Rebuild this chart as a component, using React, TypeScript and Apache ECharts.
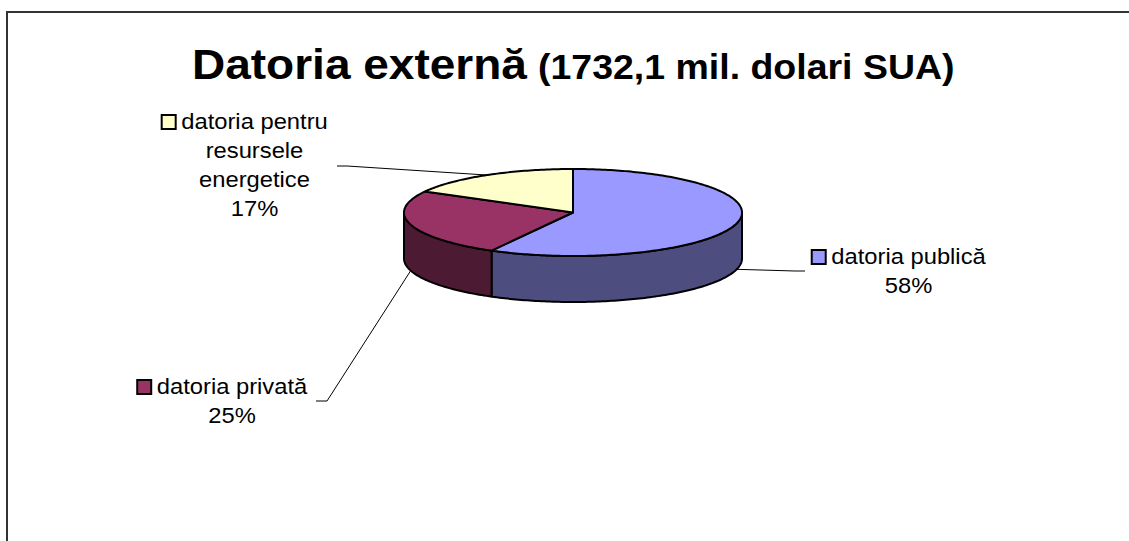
import React, { useEffect, useRef } from "react";
import * as echarts from "echarts";

// ---- data ----
const CATEGORIES = ["datoria publică", "datoria privată", "datoria pentru resursele energetice"];
const LABEL_LINES = [["datoria publică"], ["datoria privată"], ["datoria pentru", "resursele", "energetice"]];
const VALUES = [58, 25, 17];
const TITLE = "Datoria externă";
const SUBTITLE = "(1732,1 mil. dolari SUA)";

// ---- styles ----
const TOP_COLORS = ["#9999FF", "#993366", "#FFFFCC"];
const SIDE_COLORS = ["#4D4D80", "#4D1A33", "#80805F"];
const FONT_FAMILY = "'Liberation Sans', Arial, sans-serif";

// ---- layout ----
const W = 1129;
const H = 541;
const PIE = { cx: 573, cy: 212.5, rx: 169, ry: 43.5, depth: 46 };
const LABEL_FS = 22;
const LABEL_SX = 1.08;
const LINE_GAP = 29;
const LABEL_LAYOUT = [
  { cx: 908.5, firstBaseline: 264.3, leader: [[805, 271], [795, 271]] },
  { cx: 232, firstBaseline: 394.3, leader: [[316, 401], [327, 401]] },
  { cx: 254.5, firstBaseline: 129.3, leader: [[337, 166], [347, 166]] },
];

const measureCtx = typeof document !== "undefined" ? document.createElement("canvas").getContext("2d") : null;
function textWidth(t: string, font: string) {
  if (!measureCtx) return t.length * 10;
  measureCtx.font = font;
  return measureCtx.measureText(t).width;
}

const total = VALUES.reduce((a, b) => a + b, 0);
const starts: number[] = [];
{
  let acc = 0;
  VALUES.forEach((v) => {
    starts.push((acc / total) * 360);
    acc += v;
  });
}

function pt(deg: number, dy = 0): number[] {
  const r = (deg * Math.PI) / 180;
  return [PIE.cx + PIE.rx * Math.sin(r), PIE.cy - PIE.ry * Math.cos(r) + dy];
}
function arc(a: number, b: number, dy = 0): number[][] {
  const pts: number[][] = [];
  const n = Math.max(2, Math.ceil(Math.abs(b - a)));
  for (let k = 0; k <= n; k++) pts.push(pt(a + ((b - a) * k) / n, dy));
  return pts;
}

export default function App() {
  const ref = useRef<HTMLDivElement>(null);
  useEffect(() => {
    if (!ref.current) return;
    const chart = echarts.init(ref.current, undefined, { renderer: "svg" });
    const labelFont = `${LABEL_FS}px ${FONT_FAMILY}`;

    const renderItem = (params: any, api: any) => {
      const i = params.dataIndex;
      const v = api.value(0) as number;
      const a0 = starts[i];
      const a1 = a0 + (v / total) * 360;
      const children: any[] = [];
      // front side wall
      const s0 = Math.max(a0, 90);
      const s1 = Math.min(a1, 270);
      if (s1 > s0) {
        const top = arc(s0, s1);
        const bottom = arc(s1, s0, PIE.depth);
        children.push({
          type: "polygon",
          shape: { points: [...top, ...bottom] },
          style: { fill: SIDE_COLORS[i], stroke: "#000", lineWidth: 2, lineJoin: "round" },
        });
      }
      // top face
      children.push({
        type: "polygon",
        shape: { points: [[PIE.cx, PIE.cy], ...arc(a0, a1)] },
        style: { fill: TOP_COLORS[i], stroke: "#000", lineWidth: 2, lineJoin: "round" },
      });
      // leader line
      const mid = (a0 + a1) / 2;
      const front = Math.cos((mid * Math.PI) / 180) < 0;
      const lay = LABEL_LAYOUT[i];
      children.push({
        type: "polyline",
        shape: { points: [lay.leader[0], lay.leader[1], pt(mid, front ? PIE.depth : 0)] },
        style: { fill: "none", stroke: "#000", lineWidth: 1 },
      });
      // label text
      const pct = Math.round((v / total) * 100) + "%";
      const lines = [...LABEL_LINES[i], pct];
      lines.forEach((t, k) => {
        children.push({
          type: "text",
          x: lay.cx,
          y: lay.firstBaseline + k * LINE_GAP - 0.3465 * LABEL_FS,
          scaleX: LABEL_SX,
          style: {
            text: t,
            x: 0,
            y: 0,
            fill: "#000",
            font: labelFont,
            align: "center",
            verticalAlign: "middle",
            textAlign: "center",
            textVerticalAlign: "middle",
          },
        });
      });
      // legend key
      const w0 = textWidth(lines[0], labelFont) * LABEL_SX;
      const left = lay.cx - w0 / 2;
      const kc = lay.firstBaseline - 7.2;
      children.push({
        type: "rect",
        shape: { x: left - 19.5, y: kc - 7, width: 14, height: 14 },
        style: { fill: TOP_COLORS[i], stroke: "#000", lineWidth: 2 },
      });
      return { type: "group", children };
    };

    chart.setOption({
      animation: false,
      backgroundColor: "#fff",
      graphic: [
        { type: "line", shape: { x1: 7, y1: 12, x2: 7, y2: H + 5 }, style: { stroke: "#333", lineWidth: 2 } },
        { type: "line", shape: { x1: 6, y1: 12, x2: W + 5, y2: 12 }, style: { stroke: "#333", lineWidth: 2 } },
        {
          type: "text",
          x: 192,
          y: 79 - 0.3465 * 42.6,
          scaleX: 1.08,
          style: {
            text: TITLE,
            x: 0,
            y: 0,
            fill: "#000",
            font: `bold 42.6px ${FONT_FAMILY}`,
            align: "left",
            verticalAlign: "middle",
            textAlign: "left",
            textVerticalAlign: "middle",
          },
        },
        {
          type: "text",
          x: 538,
          y: 79 - 0.3465 * 34.7,
          scaleX: 1.08,
          style: {
            text: SUBTITLE,
            x: 0,
            y: 0,
            fill: "#000",
            font: `bold 34.7px ${FONT_FAMILY}`,
            align: "left",
            verticalAlign: "middle",
            textAlign: "left",
            textVerticalAlign: "middle",
          },
        },
      ],
      series: [
        {
          type: "custom",
          coordinateSystem: "none",
          silent: true,
          renderItem,
          data: VALUES.map((v, i) => ({ value: v, name: CATEGORIES[i] })),
        },
      ],
    });
    return () => chart.dispose();
  }, []);

  return (
    <div
      ref={ref}
      style={{ position: "absolute", left: 0, top: 0, width: W, height: H, background: "#fff" }}
    />
  );
}
